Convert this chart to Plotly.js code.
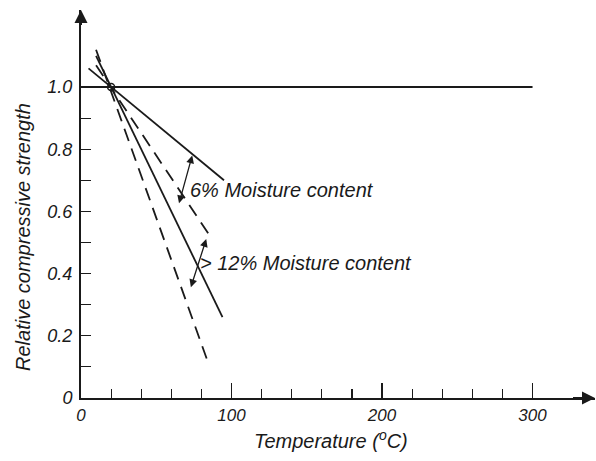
<!DOCTYPE html>
<html>
<head>
<meta charset="utf-8">
<script src="https://cdn.plot.ly/plotly-3.0.1.min.js"></script>
<style>html,body{margin:0;padding:0;background:#fff;}#chart{width:596px;height:461px;}</style>
</head>
<body>
<div id="chart"></div>
<script>
// Data
const refTemp = [0, 300];
const refStrength = [1.0, 1.0];

const solid6Temp = [5, 95];
const solid6Strength = [1.06, 0.70];

const solidSteepTemp = [10, 94];
const solidSteepStrength = [1.10, 0.26];

const dashRightTemp = [10, 86.5];
const dashRightStrength = [1.07, 0.515];

const dashLeftTemp = [10, 84];
const dashLeftStrength = [1.12, 0.12];

const pivotTemp = [20];
const pivotStrength = [1.0];

const yTickVals = [0, 0.2, 0.4, 0.6, 0.8, 1.0];
const yTickText = ['0', '0.2', '0.4', '0.6', '0.8', '1.0'];
const yMinorVals = [0.1, 0.3, 0.5, 0.7, 0.9];
const xTickVals = [0, 100, 200, 300];
const xTickText = ['0', '100', '200', '300'];
const xMinorVals = [20, 40, 60, 80, 120, 140, 160, 180, 220, 240, 260, 280];

const ink = '#1a1a1a';
const fontFam = '"Liberation Sans", Arial, sans-serif';

const solidLine = {color: ink, width: 1.8};
const dashLine = {color: ink, width: 1.8, dash: '13px,8px'};

const traces = [
  {x: refTemp, y: refStrength, mode: 'lines', line: {color: ink, width: 2}},
  {x: solid6Temp, y: solid6Strength, mode: 'lines', line: solidLine},
  {x: solidSteepTemp, y: solidSteepStrength, mode: 'lines', line: solidLine},
  {x: dashRightTemp, y: dashRightStrength, mode: 'lines', line: dashLine},
  {x: dashLeftTemp, y: dashLeftStrength, mode: 'lines', line: dashLine},
  {x: pivotTemp, y: pivotStrength, mode: 'markers', marker: {symbol: 'circle-open', size: 7, color: ink, line: {width: 1.5, color: ink}}}
];

const italic = (size) => ({family: fontFam, size: size, color: ink, style: 'italic'});

const layout = {
  width: 596, height: 461,
  margin: {l: 81, r: 1, t: 10, b: 63},
  paper_bgcolor: '#fff', plot_bgcolor: '#fff',
  showlegend: false,
  xaxis: {
    range: [0, 341.5], showline: true, linecolor: ink, linewidth: 2,
    showgrid: false, zeroline: false,
    tickmode: 'array', tickvals: xTickVals, ticktext: xTickText,
    ticks: 'inside', ticklen: 15, tickwidth: 1.6, tickcolor: ink,
    minor: {tickmode: 'array', tickvals: xMinorVals, ticks: 'inside', ticklen: 9, tickwidth: 1.2, tickcolor: ink, showgrid: false},
    tickfont: italic(17),
    ticklabelstandoff: 1
  },
  yaxis: {
    range: [0, 1.2476], showline: true, linecolor: ink, linewidth: 2,
    showgrid: false, zeroline: false,
    tickmode: 'array', tickvals: yTickVals, ticktext: yTickText,
    ticks: 'inside', ticklen: 10, tickwidth: 1.2, tickcolor: ink,
    minor: {tickmode: 'array', tickvals: yMinorVals, ticks: 'inside', ticklen: 10, tickwidth: 1.2, tickcolor: ink, showgrid: false},
    tickfont: italic(18),
    ticklabelstandoff: 3
  },
  annotations: [
    // axis arrows
    {xref: 'paper', yref: 'paper', x: 0, y: 1, ax: 0, ay: 25, text: ' ', showarrow: true, arrowhead: 2, arrowsize: 1.3, arrowwidth: 2, arrowcolor: ink},
    {xref: 'paper', yref: 'paper', x: 1, y: 0, ax: -25, ay: 0, text: ' ', showarrow: true, arrowhead: 2, arrowsize: 1.3, arrowwidth: 2, arrowcolor: ink},
    // range arrows
    {x: 73.9, y: 0.78, ax: 63.3, ay: 0.594, xref: 'x', yref: 'y', axref: 'x', ayref: 'y', text: ' ', showarrow: true, arrowhead: 2, startarrowhead: 2, arrowside: 'end+start', arrowsize: 1.2, arrowwidth: 1.3, arrowcolor: ink},
    {x: 83.2, y: 0.511, ax: 71, ay: 0.326, xref: 'x', yref: 'y', axref: 'x', ayref: 'y', text: ' ', showarrow: true, arrowhead: 2, startarrowhead: 2, arrowside: 'end+start', arrowsize: 1.2, arrowwidth: 1.3, arrowcolor: ink},
    // labels
    {x: 71.4, y: 0.669, xref: 'x', yref: 'y', xanchor: 'left', yanchor: 'middle', text: '6% Moisture content', showarrow: false, font: italic(20)},
    {x: 77.4, y: 0.434, xref: 'x', yref: 'y', xanchor: 'left', yanchor: 'middle', text: '> 12% Moisture content', showarrow: false, font: italic(20)},
    // axis titles
    {xref: 'paper', yref: 'paper', x: (331 - 81) / 514, y: -(439 - 398) / 388, xanchor: 'center', yanchor: 'middle', text: 'Temperature (<sup>o</sup>C)', showarrow: false, font: italic(20)},
    {xref: 'paper', yref: 'paper', x: -(81 - 23) / 514, y: (398 - 237) / 388, xanchor: 'center', yanchor: 'middle', textangle: -90, text: 'Relative compressive strength', showarrow: false, font: italic(20)}
  ]
};

Plotly.newPlot('chart', traces, layout, {displayModeBar: false, staticPlot: true});
</script>
</body>
</html>
